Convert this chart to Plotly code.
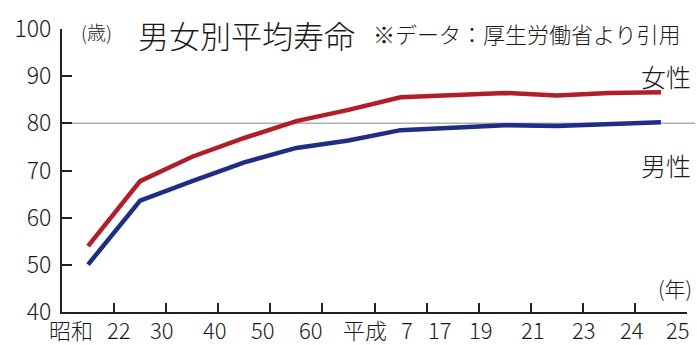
import plotly.graph_objects as go

years = ["昭和22", "30", "40", "50", "60", "平成7", "17", "19", "21", "23", "24", "25"]
female = [53.96, 67.75, 72.92, 76.89, 80.48, 82.85, 85.52, 85.99, 86.44, 85.90, 86.41, 86.61]
male = [50.06, 63.60, 67.74, 71.73, 74.78, 76.38, 78.56, 79.19, 79.59, 79.44, 79.94, 80.21]
tick_labels = ["昭和", "22", "30", "40", "50", "60", "平成", "7", "17", "19", "21", "23", "24", "25"]
label_pos = [-0.33, 0.59, 1.42, 2.44, 3.36, 4.28, 5.32, 6.12, 6.75, 7.54, 8.54, 9.52, 10.44, 11.32]

FONT = "Noto Sans CJK JP"
W8 = 300
RED = "#b21d2b"
NAVY = "#1f2d86"
TXT = "#1a1a1a"

def f(size):
    return dict(family=FONT, size=size, color=TXT, weight=W8)

xs = list(range(len(years)))
fig = go.Figure()
fig.add_shape(type="line", xref="paper", yref="y", x0=0, x1=1.013, y0=80, y1=80,
              line=dict(color="#b0b0b0", width=1.5), layer="below")
fig.add_trace(go.Scatter(x=xs, y=female, mode="lines", name="女性",
                         line=dict(color=RED, width=4.5), hoverinfo="skip"))
fig.add_trace(go.Scatter(x=xs, y=male, mode="lines", name="男性",
                         line=dict(color=NAVY, width=4.5), hoverinfo="skip"))

L, R, T, B = 62, 10, 24, 33
W, H = 697, 345
pw, ph = W - L - R, H - T - B

def px_x(v):
    return (v - L) / pw

def px_y(v):
    return 1 - (v - T) / ph

annotations = []
for t, p in zip(tick_labels, label_pos):
    annotations.append(dict(x=p, y=px_y(329.5), xref="x", yref="paper", text=t, showarrow=False,
                            yanchor="middle", font=f(22)))
annotations += [
    dict(x=px_x(96), y=px_y(27), xref="paper", yref="paper", text="(歳)", showarrow=False,
         xanchor="center", yanchor="middle", font=f(19)),
    dict(x=px_x(136), y=px_y(30), xref="paper", yref="paper", text="男女別平均寿命", showarrow=False,
         xanchor="left", yanchor="middle", font=f(31)),
    dict(x=px_x(693), y=px_y(72), xref="paper", yref="paper", text="女性", showarrow=False,
         xanchor="right", yanchor="middle", font=f(25)),
    dict(x=px_x(693), y=px_y(162), xref="paper", yref="paper", text="男性", showarrow=False,
         xanchor="right", yanchor="middle", font=f(25)),
    dict(x=px_x(694), y=px_y(288), xref="paper", yref="paper", text="(年)", showarrow=False,
         xanchor="right", yanchor="middle", font=f(21)),
    dict(x=px_x(371), y=px_y(28), xref="paper", yref="paper", text="※データ：厚生労働省より引用", showarrow=False,
         xanchor="left", yanchor="middle", font=f(22)),
]

fig.update_layout(
    width=W, height=H,
    margin=dict(l=L, r=R, t=T, b=B),
    paper_bgcolor="white", plot_bgcolor="white",
    showlegend=False,
    annotations=annotations,
    xaxis=dict(range=[-0.5, 11.5], tickvals=[i + 0.5 for i in range(12)], ticks="inside",
               ticklen=9, tickwidth=2, tickcolor="#222", showticklabels=False,
               showline=True, linecolor="#222", linewidth=2, showgrid=False, zeroline=False,
               fixedrange=True),
    yaxis=dict(range=[40, 100], tickvals=[40, 50, 60, 70, 80, 90, 100], ticks="inside",
               ticklen=10, tickwidth=2, tickcolor="#222", showline=True, linecolor="#222",
               linewidth=2, showgrid=False, zeroline=False, ticklabelstandoff=4,
               tickfont=f(23), fixedrange=True),
)
fig.write_html("out.html")
